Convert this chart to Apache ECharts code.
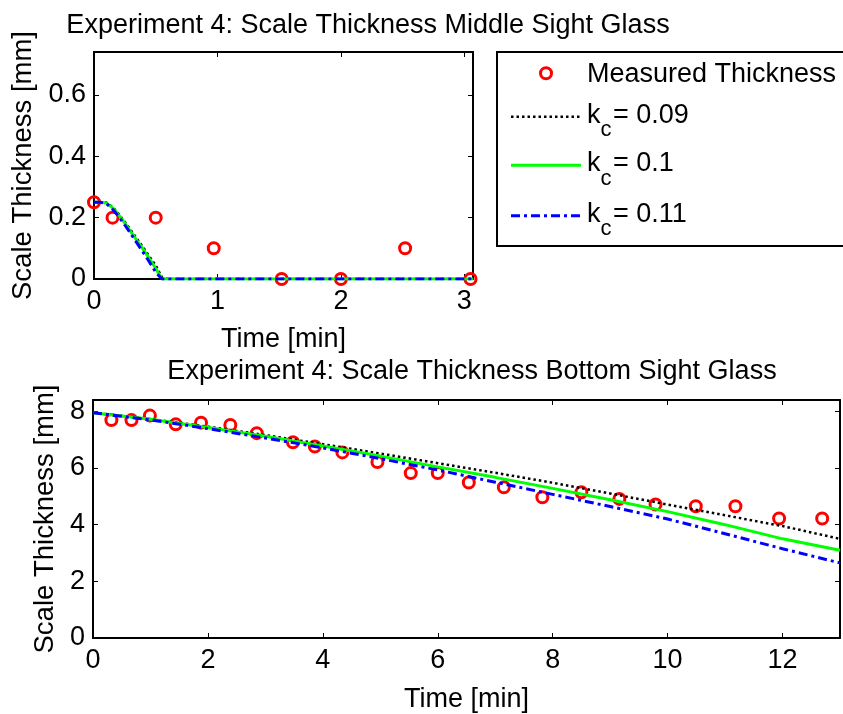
<!DOCTYPE html>
<html><head><meta charset="utf-8">
<script src="https://cdn.jsdelivr.net/npm/echarts@6/dist/echarts.min.js"></script>
<style>html,body{margin:0;padding:0;background:#fff}#c{width:843px;height:714px}</style>
</head><body><div id="c"></div>
<script>
// ---------- Middle sight glass (top plot) ----------
const midTime = [0, 0.15, 0.5, 0.97, 1.52, 2.0, 2.52, 3.05];
const midMeasured = [0.25, 0.2, 0.2, 0.1, 0, 0, 0.1, 0];
const midModelTime = [0, 0.05, 0.1, 0.15, 0.2, 0.25, 0.3, 0.35, 0.4, 0.45, 0.5, 0.55, 0.6, 1, 1.5, 2, 2.5, 3.07];
const midK009 = [0.25, 0.25, 0.249, 0.235, 0.212, 0.186, 0.158, 0.130, 0.102, 0.073, 0.044, 0.006, 0, 0, 0, 0, 0, 0];
const midK010 = [0.25, 0.25, 0.248, 0.232, 0.209, 0.182, 0.153, 0.124, 0.096, 0.066, 0.034, 0, 0, 0, 0, 0, 0, 0];
const midK011 = [0.25, 0.25, 0.246, 0.228, 0.204, 0.176, 0.146, 0.116, 0.086, 0.055, 0.022, 0, 0, 0, 0, 0, 0, 0];
const midXTicks = [0, 1, 2, 3];
const midXTickLabels = ['0', '1', '2', '3'];
const midYTicks = [0, 0.2, 0.4, 0.6];
const midYTickLabels = ['0', '0.2', '0.4', '0.6'];

// ---------- Bottom sight glass (bottom plot) ----------
const botTime = [0.32, 0.67, 0.99, 1.44, 1.88, 2.39, 2.85, 3.48, 3.86, 4.34, 4.95, 5.53, 6.0, 6.54, 7.15, 7.82, 8.5, 9.16, 9.79, 10.49, 11.18, 11.94, 12.69];
const botMeasured = [7.69, 7.69, 7.85, 7.54, 7.6, 7.52, 7.23, 6.91, 6.76, 6.55, 6.21, 5.82, 5.82, 5.49, 5.32, 4.97, 5.14, 4.91, 4.71, 4.65, 4.65, 4.22, 4.22];
const botModelTime = [0, 1, 2, 3, 4, 5, 6, 7, 8, 9, 10, 11, 12, 13];
const botK009 = [7.95, 7.73, 7.46, 7.16, 6.84, 6.51, 6.17, 5.83, 5.48, 5.1, 4.71, 4.33, 3.95, 3.5];
const botK010 = [7.95, 7.72, 7.43, 7.12, 6.78, 6.42, 6.04, 5.67, 5.28, 4.88, 4.46, 4.0, 3.5, 3.1];
const botK011 = [7.95, 7.7, 7.39, 7.06, 6.71, 6.33, 5.93, 5.5, 5.07, 4.64, 4.2, 3.68, 3.15, 2.65];
const botXTicks = [0, 2, 4, 6, 8, 10, 12];
const botXTickLabels = ['0', '2', '4', '6', '8', '10', '12'];
const botYTicks = [0, 2, 4, 6, 8];
const botYTickLabels = ['0', '2', '4', '6', '8'];

// ---------- Text ----------
const titleMid = 'Experiment 4: Scale Thickness Middle Sight Glass';
const titleBot = 'Experiment 4: Scale Thickness Bottom Sight Glass';
const xName = 'Time [min]';
const yName = 'Scale Thickness [mm]';
const seriesNames = ['Measured Thickness', 'k_c= 0.09', 'k_c= 0.1', 'k_c= 0.11'];
const legendValues = ['= 0.09', '= 0.1', '= 0.11'];

const FONT = 'Liberation Sans, Arial, sans-serif';
const FS = 27;
const txt = {fontFamily: FONT, fontSize: FS, color: '#000', fontWeight: 'normal'};
const ytxt = {fontFamily: FONT, fontSize: 27.5, color: '#000', fontWeight: 'normal'};

function fmt(ticks, labels) {
  return function (v) {
    for (let i = 0; i < ticks.length; i++) if (Math.abs(ticks[i] - v) < 1e-6) return labels[i];
    return '';
  };
}
function pair(xs, ys) { return xs.map((x, i) => [x, ys[i]]); }

const axisLine = {onZero: false, lineStyle: {color: '#000', width: 2}};
const axisTick = {inside: true, length: 5, lineStyle: {color: '#000', width: 1}};

function xAxisMain(grid, min, max, interval, ticks, labels, gap) {
  return {type: 'value', gridIndex: grid, min, max, interval, position: 'bottom',
    axisLine, axisTick, splitLine: {show: false},
    axisLabel: Object.assign({margin: 9, formatter: fmt(ticks, labels)}, txt),
    name: xName, nameLocation: 'middle', nameGap: gap, nameTextStyle: txt};
}
function xAxisTop(grid, min, max, interval) {
  return {type: 'value', gridIndex: grid, min, max, interval, position: 'top',
    axisLine, axisTick, splitLine: {show: false}, axisLabel: {show: false}};
}
function yAxisMain(grid, min, max, interval, ticks, labels, gap) {
  return {type: 'value', gridIndex: grid, min, max, interval, position: 'left',
    axisLine, axisTick, splitLine: {show: false},
    axisLabel: Object.assign({margin: 8, formatter: fmt(ticks, labels)}, txt),
    name: yName, nameLocation: 'middle', nameGap: gap, nameTextStyle: ytxt};
}
function yAxisRight(grid, min, max, interval) {
  return {type: 'value', gridIndex: grid, min, max, interval, position: 'right',
    axisLine, axisTick, splitLine: {show: false}, axisLabel: {show: false}};
}

const markerStyle = {color: 'rgba(0,0,0,0)', borderColor: '#ff0000', borderWidth: 3, opacity: 1};
function scatter(xi, yi, xs, ys) {
  return {type: 'scatter', name: seriesNames[0], xAxisIndex: xi, yAxisIndex: yi,
    data: pair(xs, ys), symbol: 'circle', symbolSize: 11, clip: false,
    itemStyle: markerStyle, emphasis: {disabled: true}, silent: true};
}
const lineStyles = [
  {color: '#000000', width: 2.5, type: [2.5, 3]},
  {color: '#00ff00', width: 3, type: 'solid'},
  {color: '#0000ff', width: 3, type: [9, 4, 3, 4]}
];
function line(k, xi, yi, xs, ys) {
  return {type: 'line', name: seriesNames[k + 1], xAxisIndex: xi, yAxisIndex: yi,
    data: pair(xs, ys), symbol: 'none', showSymbol: false, color: lineStyles[k].color,
    lineStyle: lineStyles[k], emphasis: {disabled: true}, silent: true, z: 3};
}

// ---------- Legend (drawn as a boxed key) ----------
const LG = {x: 497, y: 52, w: 360, h: 194, sampleX0: 511, sampleX1: 581, textX: 587,
  row0: 73.3, rows: [116.7, 165.3, 215.7]};
const legendEls = [
  {type: 'rect', shape: {x: LG.x, y: LG.y, width: LG.w, height: LG.h},
    style: {fill: '#fff', stroke: '#000', lineWidth: 2}, z: 100},
  {type: 'circle', shape: {cx: (LG.sampleX0 + LG.sampleX1) / 2, cy: LG.row0, r: 5.5},
    style: {fill: 'none', stroke: '#ff0000', lineWidth: 3}, z: 101},
  {type: 'text', x: LG.textX, y: LG.row0 + 1.5, z: 101,
    style: {text: seriesNames[0], fontSize: FS, fontFamily: FONT, fill: '#000', verticalAlign: 'middle'}}
];
LG.rows.forEach(function (ry, i) {
  const ls = lineStyles[i];
  legendEls.push({type: 'line', z: 101,
    shape: {x1: LG.sampleX0, y1: ry, x2: LG.sampleX1, y2: ry},
    style: {stroke: ls.color, lineWidth: ls.width, lineDash: ls.type === 'solid' ? null : ls.type}});
  legendEls.push({type: 'text', x: LG.textX, y: ry - 1.5, z: 101,
    style: {text: 'k', fontSize: FS, fontFamily: FONT, fill: '#000', verticalAlign: 'middle'}});
  legendEls.push({type: 'text', x: LG.textX + 13.5, y: ry + 13.5, z: 101,
    style: {text: 'c', fontSize: 22, fontFamily: FONT, fill: '#000', verticalAlign: 'middle'}});
  legendEls.push({type: 'text', x: LG.textX + 26, y: ry - 1.5, z: 101,
    style: {text: legendValues[i], fontSize: FS, fontFamily: FONT, fill: '#000', verticalAlign: 'middle'}});
});

const chart = echarts.init(document.getElementById('c'), null, {renderer: 'canvas'});
chart.setOption({
  animation: false,
  backgroundColor: '#ffffff',
  title: [
    {text: titleMid, left: 368, top: 12, textAlign: 'center', padding: 0, textStyle: txt},
    {text: titleBot, left: 472, top: 358, textAlign: 'center', padding: 0, textStyle: txt}
  ],
  grid: [
    {left: 94, top: 52, width: 379, height: 227},
    {left: 93, top: 400, width: 757, height: 239}
  ],
  xAxis: [
    xAxisMain(0, 0, 3.07, 1, midXTicks, midXTickLabels, 47),
    xAxisTop(0, 0, 3.07, 1),
    xAxisMain(1, 0, 13, 2, botXTicks, botXTickLabels, 48),
    xAxisTop(1, 0, 13, 2)
  ],
  yAxis: [
    yAxisMain(0, 0, 0.74, 0.2, midYTicks, midYTickLabels, 56.5),
    yAxisRight(0, 0, 0.74, 0.2),
    yAxisMain(1, 0, 8.4, 2, botYTicks, botYTickLabels, 32.5),
    yAxisRight(1, 0, 8.4, 2)
  ],
  graphic: legendEls,
  series: [
    scatter(0, 0, midTime, midMeasured),
    line(0, 0, 0, midModelTime, midK009),
    line(1, 0, 0, midModelTime, midK010),
    line(2, 0, 0, midModelTime, midK011),
    scatter(2, 2, botTime, botMeasured),
    line(0, 2, 2, botModelTime, botK009),
    line(1, 2, 2, botModelTime, botK010),
    line(2, 2, 2, botModelTime, botK011)
  ]
});
</script>
</body></html>
